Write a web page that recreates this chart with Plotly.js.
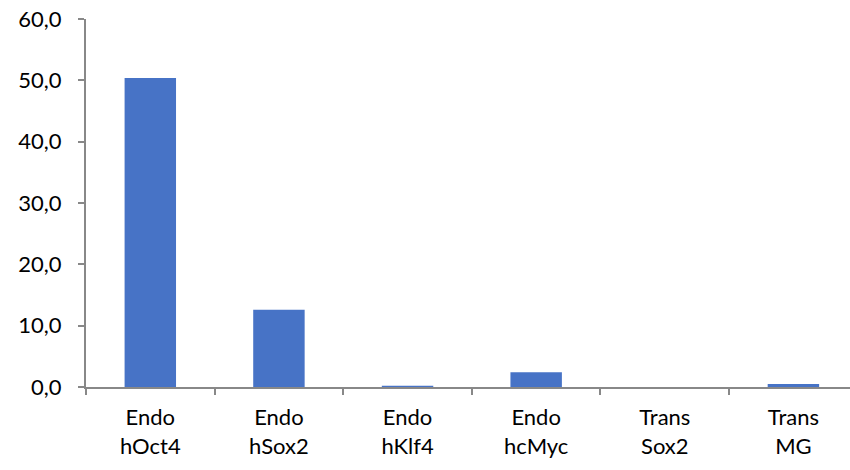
<!DOCTYPE html>
<html>
<head>
<meta charset="utf-8">
<script src="https://cdn.plot.ly/plotly-3.0.1.min.js"></script>
<style>html,body{margin:0;padding:0;overflow:hidden;background:#fff;}</style>
</head>
<body>
<div id="chart" style="width:850px;height:470px;"></div>
<script>
const categories = ["Endo<br>hOct4", "Endo<br>hSox2", "Endo<br>hKlf4", "Endo<br>hcMyc", "Trans<br>Sox2", "Trans<br>MG"];
const values = [50.4, 12.6, 0.2, 2.4, 0.0, 0.5];
const yTicks = [0, 10, 20, 30, 40, 50, 60];
const yTickLabels = ["0,0", "10,0", "20,0", "30,0", "40,0", "50,0", "60,0"];

const trace = {
  type: "bar",
  x: categories,
  y: values,
  width: 0.4,
  marker: {color: "#4773c6", line: {width: 0}},
  hoverinfo: "none"
};

const layout = {
  width: 850,
  height: 470,
  margin: {l: 86, r: 0, t: 19, b: 83, pad: 0},
  paper_bgcolor: "#fff",
  plot_bgcolor: "#fff",
  showlegend: false,
  font: {family: "Lato, 'Open Sans', sans-serif", size: 22, color: "#000"},
  xaxis: {
    type: "category",
    range: [-0.5, 5.44],
    showline: true,
    linecolor: "#888",
    linewidth: 2,
    ticks: "outside",
    tickson: "boundaries",
    ticklen: 6,
    tickwidth: 2,
    tickcolor: "#888",
    showgrid: false,
    zeroline: false,
    tickfont: {size: 22, color: "#000"},
    ticklabelstandoff: 10
  },
  yaxis: {
    range: [0, 60],
    tickvals: yTicks,
    ticktext: yTickLabels,
    showline: true,
    linecolor: "#888",
    linewidth: 2,
    ticks: "outside",
    ticklen: 6,
    tickwidth: 2,
    tickcolor: "#888",
    showgrid: false,
    zeroline: false,
    tickfont: {size: 22, color: "#000"},
    ticklabelstandoff: 12
  }
};

Plotly.newPlot("chart", [trace], layout, {displayModeBar: false, staticPlot: true});
</script>
</body>
</html>
